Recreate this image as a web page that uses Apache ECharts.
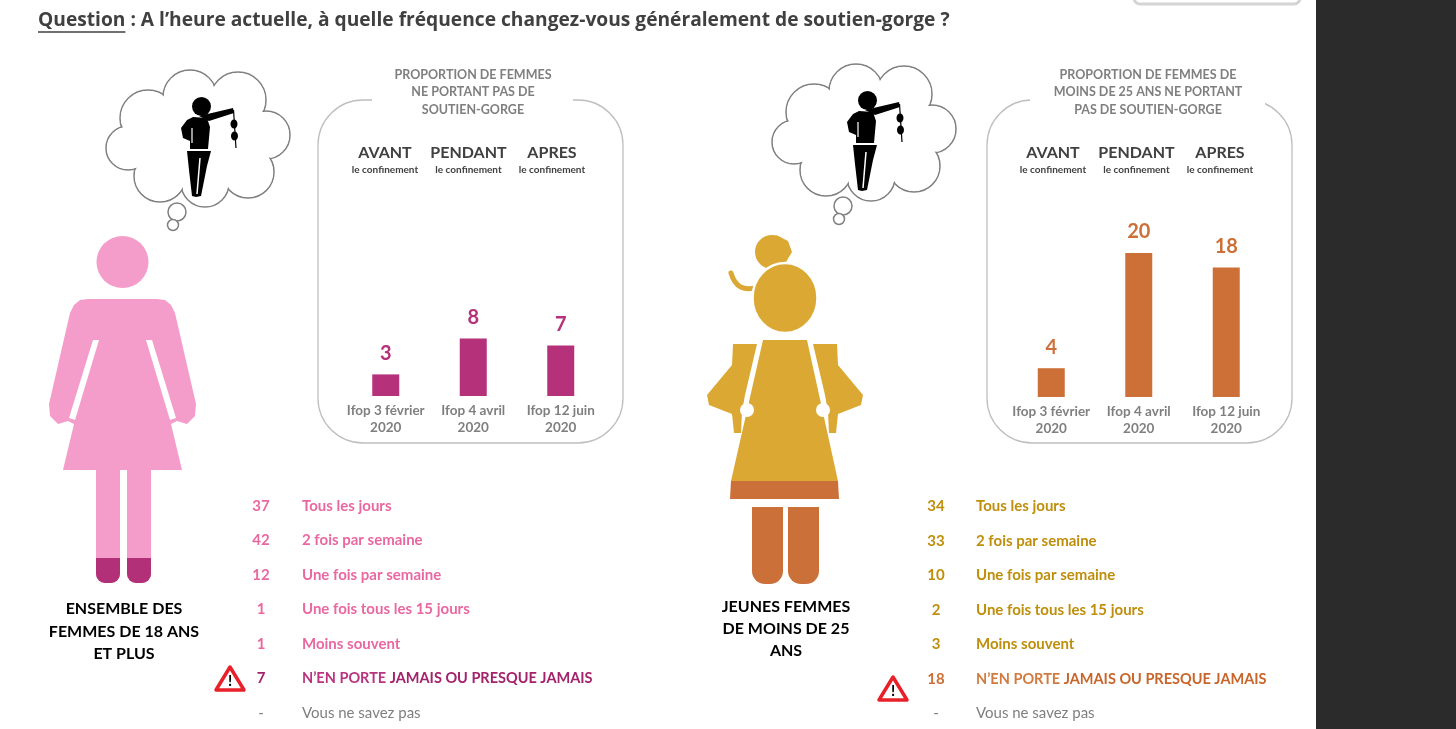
<!DOCTYPE html>
<html lang="fr">
<head>
<meta charset="utf-8">
<title>Fréquence de changement de soutien-gorge</title>
<script src="https://cdn.jsdelivr.net/npm/echarts@6/dist/echarts.min.js"></script>
<style>
  html, body { margin: 0; padding: 0; background: #fff; }
  #chart { width: 1456px; height: 729px; }
</style>
</head>
<body>
<div id="chart"></div>
<script>
// ---- données ----
const periods = ['AVANT', 'PENDANT', 'APRES'];
const surveys = ['Ifop 3 février\n2020', 'Ifop 4 avril\n2020', 'Ifop 12 juin\n2020'];
const noBraAll = [3, 8, 7];
const noBraYoung = [4, 20, 18];
const freqLabels = ['Tous les jours', '2 fois par semaine', 'Une fois par semaine',
  'Une fois tous les 15 jours', 'Moins souvent', 'N’EN PORTE JAMAIS OU PRESQUE JAMAIS', 'Vous ne savez pas'];
const freqAll = [37, 42, 12, 1, 1, 7, null];
const freqYoung = [34, 33, 10, 2, 3, 18, null];

const FONT = 'Lato, "Open Sans", sans-serif';
const GREY = '#7f7f7f';
const DARK = '#404040';

const pink = { body: '#f49cca', feet: '#b23078', bar: '#b5317a', text: '#ea68a1', warnA: '#b9347f', warnB: '#a3226b' };
const gold = { body: '#dba933', leg: '#cb7038', bar: '#cc7038', text: '#bf8e0a', warnA: '#d27a3f', warnB: '#c8652b' };

const chart = echarts.init(document.getElementById('chart'));

// titre : taille ajustée à la largeur de la ligne d'origine
const QTEXT = 'Question : A l’heure actuelle, à quelle fréquence changez-vous généralement de soutien-gorge ?';
const ctx = document.createElement('canvas').getContext('2d');
ctx.font = 'bold 18px "Open Sans"';
const qSize = Math.min(19.5, 18 * 912 / ctx.measureText(QTEXT).width);
ctx.font = 'bold ' + qSize + 'px "Open Sans"';
const qW = ctx.measureText('Question').width;

// ---- petits dessins ----
function cloud(dx, dy) {
  const c = [[148, 118, 28], [190, 97, 27], [238, 100, 28], [266, 135, 24],
    [248, 172, 26], [205, 183, 24], [160, 176, 26], [128, 148, 22]];
  const mv = pts => pts.map(p => [p[0] + dx, p[1] + dy]);
  const out = [];
  c.forEach(p => out.push({ type: 'circle', shape: { cx: p[0] + dx, cy: p[1] + dy, r: p[2] },
    style: { fill: '#fff', stroke: '#808080', lineWidth: 1.5 } }));
  c.forEach(p => out.push({ type: 'circle', shape: { cx: p[0] + dx, cy: p[1] + dy, r: p[2] - 1 },
    style: { fill: '#fff' } }));
  out.push({ type: 'ellipse', shape: { cx: 197 + dx, cy: 140 + dy, rx: 70, ry: 42 }, style: { fill: '#fff' } });
  // bulles
  out.push({ type: 'circle', shape: { cx: 177 + dx, cy: 212 + dy, r: 9 }, style: { fill: '#fff', stroke: '#808080', lineWidth: 1.5 } });
  out.push({ type: 'circle', shape: { cx: 173 + dx, cy: 225 + dy, r: 5.5 }, style: { fill: '#fff', stroke: '#808080', lineWidth: 1.5 } });
  // petite femme qui jette son soutien-gorge
  out.push({ type: 'circle', shape: { cx: 201.5 + dx, cy: 106.5 + dy, r: 9.5 }, style: { fill: '#000' } });
  out.push({ type: 'polygon', shape: { points: mv([[199, 116], [209, 121], [234, 113], [233, 108]]) }, style: { fill: '#000' } });
  out.push({ type: 'polygon', shape: { points: mv([[193, 117], [207, 118], [210, 127], [208, 149], [190, 149], [190, 141], [183, 138], [181, 128], [187, 120]]) }, style: { fill: '#000' } });
  out.push({ type: 'line', shape: { x1: 192 + dx, y1: 128 + dy, x2: 192 + dx, y2: 143 + dy }, style: { stroke: '#fff', lineWidth: 1.2 } });
  out.push({ type: 'line', shape: { x1: 233.5 + dx, y1: 110 + dy, x2: 236 + dx, y2: 148 + dy }, style: { stroke: '#000', lineWidth: 1.2 } });
  out.push({ type: 'ellipse', shape: { cx: 234 + dx, cy: 124 + dy, rx: 3.5, ry: 4.5 }, style: { fill: '#000' } });
  out.push({ type: 'ellipse', shape: { cx: 234.5 + dx, cy: 136 + dy, rx: 3.5, ry: 4.5 }, style: { fill: '#000' } });
  out.push({ type: 'polygon', shape: { points: mv([[187, 151], [211, 151], [207, 166], [201, 196], [196, 197], [192, 196], [189, 170]]) }, style: { fill: '#000' } });
  out.push({ type: 'line', shape: { x1: 200 + dx, y1: 158 + dy, x2: 197 + dx, y2: 194 + dy }, style: { stroke: '#fff', lineWidth: 1.5 } });
  return out;
}

function warn(cx, cy) {
  return [
    { type: 'polygon', shape: { points: [[cx, cy - 12], [cx + 14, cy + 11], [cx - 14, cy + 11]] },
      style: { fill: '#fff', stroke: '#e8202a', lineWidth: 3.5, lineJoin: 'round' } },
    { type: 'text', x: cx, y: cy + 2, style: { text: '!', font: 'bold 15px ' + FONT, fill: '#000', align: 'center', verticalAlign: 'middle' } }
  ];
}

function womanPink() {
  const m = x => 245 - x;
  const sil = [[88, 299], [157, 299], [165, 300], [171, 305], [175, 313], [196, 404], [195, 416], [187, 424], [177, 421], [171, 424],
    [182, 470], [63, 470], [74, 424], [68, 421], [58, 424], [50, 416], [49, 404], [70, 313], [74, 305], [80, 300]];
  const gapL = [[93, 340], [99, 340], [75, 420], [69, 418]];
  return [
    { type: 'circle', shape: { cx: 122.5, cy: 262, r: 26 }, style: { fill: pink.body } },
    { type: 'polygon', shape: { points: sil }, style: { fill: pink.body } },
    { type: 'polygon', shape: { points: gapL }, style: { fill: '#fff' } },
    { type: 'polygon', shape: { points: gapL.map(p => [m(p[0]), p[1]]) }, style: { fill: '#fff' } },
    { type: 'rect', shape: { x: 96, y: 469, width: 24, height: 114, r: [0, 0, 9, 9] }, style: { fill: pink.body } },
    { type: 'rect', shape: { x: 127, y: 469, width: 24, height: 114, r: [0, 0, 9, 9] }, style: { fill: pink.body } },
    { type: 'rect', shape: { x: 96, y: 558, width: 24, height: 25, r: [0, 0, 9, 9] }, style: { fill: pink.feet } },
    { type: 'rect', shape: { x: 127, y: 558, width: 24, height: 25, r: [0, 0, 9, 9] }, style: { fill: pink.feet } }
  ];
}

function girlGold() {
  const m = x => 1570 - x;
  const arm = [[733, 344], [757, 344], [745, 395], [742, 412], [741, 433], [734, 433], [732, 414], [709, 405], [707, 395], [732, 365]];
  return [
    { type: 'circle', shape: { cx: 772, cy: 252, r: 17 }, style: { fill: gold.body } },
    { type: 'polygon', shape: { points: [[776, 235], [788, 241], [792, 252], [786, 262]] }, style: { fill: gold.body } },
    { type: 'bezierCurve', shape: { x1: 731, y1: 273, cpx1: 737, cpy1: 294, x2: 758, y2: 287 }, style: { stroke: gold.body, lineWidth: 5, fill: 'none', lineCap: 'round' } },
    { type: 'ellipse', shape: { cx: 785, cy: 298, rx: 32.5, ry: 35 }, style: { fill: gold.body, stroke: '#fff', lineWidth: 2.5 } },
    { type: 'polygon', shape: { points: [[763, 340], [807, 340], [838, 481], [731, 481]] }, style: { fill: gold.body } },
    { type: 'polygon', shape: { points: [[731, 481], [838, 481], [839, 499], [730, 499]] }, style: { fill: gold.leg } },
    { type: 'polygon', shape: { points: arm }, style: { fill: gold.body } },
    { type: 'polygon', shape: { points: arm.map(p => [m(p[0]), p[1]]) }, style: { fill: gold.body } },
    { type: 'circle', shape: { cx: 747, cy: 410, r: 7 }, style: { fill: '#fff' } },
    { type: 'circle', shape: { cx: 823, cy: 410, r: 7 }, style: { fill: '#fff' } },
    { type: 'rect', shape: { x: 752, y: 507, width: 31, height: 77, r: [0, 0, 13, 13] }, style: { fill: gold.leg } },
    { type: 'rect', shape: { x: 788, y: 507, width: 31, height: 77, r: [0, 0, 13, 13] }, style: { fill: gold.leg } }
  ];
}

function freqList(values, numX, labX, y0, step, c) {
  const out = [];
  const f = 'bold 15px ' + FONT;
  values.forEach((v, i) => {
    const y = y0 + i * step;
    const lab = freqLabels[i];
    if (v == null) {
      out.push({ type: 'text', x: numX, y, style: { text: '-', font: '15px ' + FONT, fill: GREY, align: 'center', verticalAlign: 'middle' } });
      out.push({ type: 'text', x: labX, y, style: { text: lab, font: '15px ' + FONT, fill: GREY, align: 'left', verticalAlign: 'middle' } });
      return;
    }
    const isWarn = i === 5;
    out.push({ type: 'text', x: numX, y, style: { text: String(v), font: f,
      fill: isWarn ? (c === pink ? c.warnB : c.bar) : c.text, align: 'center', verticalAlign: 'middle' } });
    if (isWarn) {
      const k = lab.indexOf('JAMAIS');
      out.push({ type: 'text', x: labX, y, style: {
        text: '{a|' + lab.slice(0, k) + '}{b|' + lab.slice(k) + '}',
        rich: { a: { font: 'bold 14.5px ' + FONT, fill: c.warnA }, b: { font: 'bold 14.5px ' + FONT, fill: c.warnB } },
        align: 'left', verticalAlign: 'middle' } });
    } else {
      out.push({ type: 'text', x: labX, y, style: { text: lab, font: f, fill: c.text, align: 'left', verticalAlign: 'middle' } });
    }
  });
  return out;
}

function panel(x, gapX, gapW, title, titleX) {
  return [
    { type: 'rect', shape: { x, y: 100, width: 305, height: 343, r: 45 }, style: { fill: 'none', stroke: '#bfbfbf', lineWidth: 1.3 } },
    { type: 'rect', shape: { x: gapX, y: 94, width: gapW, height: 12 }, style: { fill: '#fff' } },
    { type: 'text', x: titleX, y: 66, style: { text: title, font: 'bold 12.5px ' + FONT, fill: GREY, align: 'center', verticalAlign: 'top', lineHeight: 17.5 } }
  ];
}

const art = [].concat(
  [{ type: 'rect', shape: { x: 1316, y: 0, width: 140, height: 729 }, style: { fill: '#2b2b2b' } },
   { type: 'rect', shape: { x: 1134, y: -20, width: 166, height: 24, r: 6 }, style: { fill: '#fff', stroke: '#d4d4d4', lineWidth: 3 } },
   { type: 'text', x: 38, y: 21, style: { text: QTEXT,
     font: 'bold ' + qSize + 'px "Open Sans"', fill: DARK, align: 'left', verticalAlign: 'middle' } },
   { type: 'line', shape: { x1: 38, y1: 32, x2: 38 + qW, y2: 32 }, style: { stroke: DARK, lineWidth: 1.3 } }],
  panel(318, 372, 201, 'PROPORTION DE FEMMES\nNE PORTANT PAS DE\nSOUTIEN-GORGE', 473),
  panel(987, 1030, 235, 'PROPORTION DE FEMMES DE\nMOINS DE 25 ANS NE PORTANT\nPAS DE SOUTIEN-GORGE', 1148),
  cloud(0, 0),
  cloud(666, -6),
  womanPink(),
  girlGold(),
  [{ type: 'text', x: 124, y: 598, style: { text: 'ENSEMBLE DES\nFEMMES DE 18 ANS\nET PLUS', font: 'bold 16px ' + FONT, fill: '#000', align: 'center', verticalAlign: 'top', lineHeight: 22.5 } },
   { type: 'text', x: 786, y: 596, style: { text: 'JEUNES FEMMES\nDE MOINS DE 25\nANS', font: 'bold 16px ' + FONT, fill: '#000', align: 'center', verticalAlign: 'top', lineHeight: 22 } }],
  freqList(freqAll, 261, 302, 506, 34.5, pink),
  freqList(freqYoung, 936, 976, 506.5, 34.5, gold),
  warn(230, 679),
  warn(893, 689)
);

// ---- axes ----
function bottomAxis(idx) {
  return {
    type: 'category', gridIndex: idx, data: surveys,
    axisLine: { show: false }, axisTick: { show: false },
    axisLabel: { interval: 0, margin: 6, color: GREY, fontFamily: FONT, fontWeight: 'bold', fontSize: 13.5, lineHeight: 17 }
  };
}
function topAxis(idx, margin) {
  return {
    type: 'category', gridIndex: idx, position: 'top', data: periods,
    axisLine: { show: false }, axisTick: { show: false },
    axisLabel: {
      interval: 0, margin,
      formatter: v => '{a|' + v + '}\n{b|le confinement}',
      rich: {
        a: { fontFamily: FONT, fontWeight: 'bold', fontSize: 16, color: DARK, lineHeight: 20 },
        b: { fontFamily: FONT, fontWeight: 'bold', fontSize: 10, color: DARK, lineHeight: 14 }
      }
    }
  };
}
const hiddenY = idx => ({ type: 'value', gridIndex: idx, min: 0, max: 25, show: false });

function barSeries(idx, data, color) {
  return {
    type: 'bar', xAxisIndex: idx, yAxisIndex: idx, data, barWidth: 27,
    itemStyle: { color },
    label: { show: true, position: 'top', distance: 11, color, fontFamily: FONT, fontWeight: 'bold', fontSize: 20 }
  };
}

chart.setOption({
  animation: false,
  backgroundColor: '#fff',
  grid: [
    { left: 342, top: 216, width: 262.5, height: 180 },
    { left: 1007.5, top: 217, width: 262.5, height: 180 },
    { left: 343.25, top: 216, width: 250.5, height: 180 },
    { left: 1011.25, top: 217, width: 250.5, height: 180 }
  ],
  xAxis: [bottomAxis(0), bottomAxis(1), topAxis(2, 39), topAxis(3, 40)],
  yAxis: [hiddenY(0), hiddenY(1), hiddenY(2), hiddenY(3)],
  series: [barSeries(0, noBraAll, pink.bar), barSeries(1, noBraYoung, gold.bar)],
  graphic: { elements: art }
});

window.addEventListener('resize', () => chart.resize());
</script>
</body>
</html>
